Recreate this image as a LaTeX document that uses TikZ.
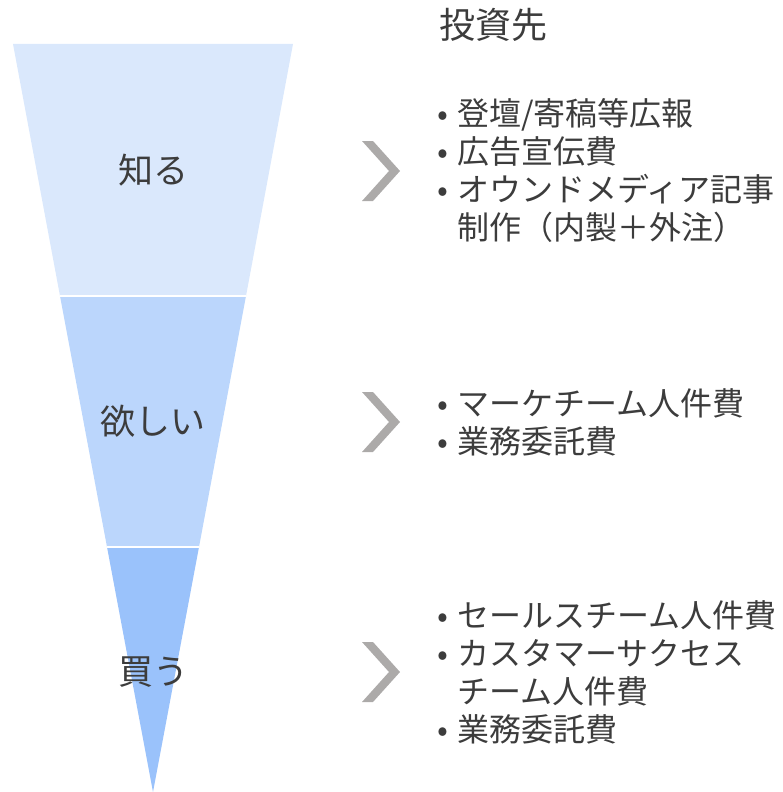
\documentclass[tikz,border=0pt]{standalone}
\usepackage{fontspec}
\newfontfamily\cjk{Noto Sans CJK JP}
\usepackage{xcolor}
\usetikzlibrary{positioning, calc}

\definecolor{knowblue}{RGB}{218,232,252}
\definecolor{wantblue}{RGB}{187,214,252}
\definecolor{buyblue}{RGB}{154,194,251}
\definecolor{chevgray}{RGB}{172,170,169}
\definecolor{textgray}{RGB}{60,60,60}

\newcommand{\itembul}{\makebox[20pt][l]{•}}
\newcommand{\itemcont}{\hspace*{20pt}}

\begin{document}
\begin{tikzpicture}[
    x=1pt, y=-1pt,
    separator/.style={draw=white, line width=1.5pt},
    stagelabel/.style={text=textgray, font=\cjk\fontsize{35}{40}\selectfont},
    header/.style={text=textgray, font=\cjk\fontsize{36}{42}\selectfont, anchor=west, inner sep=0pt},
    items/.style={text=textgray, font=\cjk\fontsize{32}{38}\selectfont, align=left, anchor=west, inner sep=0pt},
    chevron/.style={fill=chevgray}
]
\useasboundingbox (0,0) rectangle (782,792);

% Funnel
\coordinate (tl) at (13,44);
\coordinate (tr) at (293,44);
\coordinate (ml) at (60,296);
\coordinate (mr) at (246,296);
\coordinate (bl) at (107,547);
\coordinate (br) at (199,547);
\coordinate (tip) at (153,792);

\fill[knowblue] (tl) -- (tr) -- (mr) -- (ml) -- cycle;
\fill[wantblue] (ml) -- (mr) -- (br) -- (bl) -- cycle;
\fill[buyblue] (bl) -- (br) -- (tip) -- cycle;
\draw[separator] (ml) -- (mr);
\draw[separator] (bl) -- (br);

\node[stagelabel] (know) at (153,170) {知る};
\node[stagelabel] (want) at (153,421) {欲しい};
\node[stagelabel] (buy) at (153,672) {買う};

% Chevrons
\foreach \cy in {171,422,672}
    \fill[chevron] (362,\cy-30) -- (373,\cy-30) -- (400,\cy) -- (373,\cy+30) -- (362,\cy+30) -- (389,\cy) -- cycle;

% Investments
\node[header] (invest) at (439,25) {投資先};
\node[items] (knowcost) at (437,171) {\itembul 登壇/寄稿等広報\\ \itembul 広告宣伝費\\ \itembul オウンドメディア記事\\ \itemcont 制作（内製＋外注）};
\node[items] (wantcost) at (437,422) {\itembul マーケチーム人件費\\ \itembul 業務委託費};
\node[items] (buycost) at (437,672) {\itembul セールスチーム人件費\\ \itembul カスタマーサクセス\\ \itemcont チーム人件費\\ \itembul 業務委託費};

\end{tikzpicture}
\end{document}
